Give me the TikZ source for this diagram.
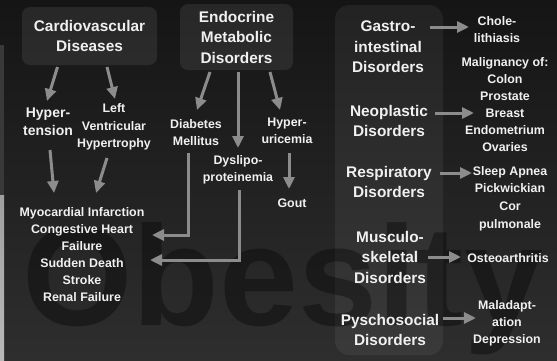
\documentclass[tikz,border=0pt]{standalone}
\usepackage{fontspec}
\setmainfont{Liberation Sans}
\usetikzlibrary{arrows.meta}
\definecolor{bgtop}{HTML}{151515}
\definecolor{bgbot}{HTML}{2E2E2E}
\definecolor{arrowgray}{HTML}{8C8C8C}
\definecolor{txt}{HTML}{F0F0F0}
\tikzset{
  head/.style={text=txt,font=\bfseries\fontsize{15.4}{20.5}\selectfont,align=center,inner sep=0pt},
  headbox/.style={head,fill=white,fill opacity=0.08,text opacity=1,rounded corners=8pt},
  item/.style={text=txt,font=\bfseries\fontsize{12.4}{17}\selectfont,align=center,inner sep=0pt},
  arr/.style={draw=arrowgray,line width=3pt,-{Triangle[width=11pt,length=12pt]}},
}
\begin{document}
\begin{tikzpicture}[x=1pt,y=-1pt]
\useasboundingbox (0,0) rectangle (557,360);
\shade[top color=bgtop,bottom color=bgbot] (0,0) rectangle (557,360);
% left edge strip
\fill[gray!45!black] (0,45) rectangle (4,195);
\shade[top color=gray!75,bottom color=gray!55] (0,195) rectangle (4,360);
% right panel
\fill[white,opacity=0.06,rounded corners=14pt] (335,5) rectangle (443,355);
% watermark
\node[anchor=base west,inner sep=0pt,text=black,text opacity=0.35,font=\bfseries\fontsize{142}{142}\selectfont] (wm) at (22,325) {Obesity};
% headings
\node[headbox,minimum width=135pt,minimum height=58pt] (cv) at (89.5,36) {Cardiovascular\\Diseases};
\node[headbox,minimum width=113pt,minimum height=66pt] (endo) at (236.5,37) {Endocrine\\Metabolic\\Disorders};
\node[head] (gi) at (388,47) {Gastro-\\intestinal\\Disorders};
\node[head] (neo) at (389,121) {Neoplastic\\Disorders};
\node[head] (resp) at (389,182) {Respiratory\\Disorders};
\node[head] (musc) at (390,257) {Musculo-\\skeletal\\Disorders};
\node[head] (psy) at (390,330) {Pyschosocial\\Disorders};
% items
\node[item,font=\bfseries\fontsize{14}{18}\selectfont] (hyp) at (48,122) {Hyper-\\tension};
\node[item,font=\bfseries\fontsize{12.4}{17.5}\selectfont] (lvh) at (114,127) {Left\\Ventricular\\Hypertrophy};
\node[item] (out) at (82,254.5) {Myocardial Infarction\\Congestive Heart\\Failure\\Sudden Death\\Stroke\\Renal Failure};
\node[item] (dm) at (196,133) {Diabetes\\Mellitus};
\node[item] (dys) at (238,170) {Dyslipo-\\proteinemia};
\node[item] (hu) at (287,131) {Hyper-\\uricemia};
\node[item] (gout) at (292,203) {Gout};
\node[item] (chole) at (497,29.5) {Chole-\\lithiasis};
\node[item] (malig) at (505,104.5) {Malignancy of:\\Colon\\Prostate\\Breast\\Endometrium\\Ovaries};
\node[item,font=\bfseries\fontsize{12.4}{17.7}\selectfont] (sleep) at (510,198.5) {Sleep Apnea\\Pickwickian\\Cor\\pulmonale};
\node[item] (osteo) at (508,258) {Osteoarthritis};
\node[item] (malad) at (507,323.5) {Maladapt-\\ation\\Depression};
% arrows
\draw[arr] ([shift={(-32,31)}]cv.center) -- ([shift={(-1,-21)}]hyp.center);
\draw[arr] ([shift={(17.5,31)}]cv.center) -- ([shift={(1,-28)}]lvh.center);
\draw[arr] ([shift={(2,28)}]hyp.center) -- ([shift={(-28,-61.5)}]out.center);
\draw[arr] ([shift={(-7,31)}]lvh.center) -- ([shift={(14,-61.5)}]out.center);
\draw[arr] ([shift={(-26.5,35)}]endo.center) -- ([shift={(1,-23)}]dm.center);
\draw[arr] ([shift={(1.5,35)}]endo.center) -- ([shift={(0,-22)}]dys.center);
\draw[arr] ([shift={(33.5,35)}]endo.center) -- ([shift={(-7,-21)}]hu.center);
\draw[arr] ([shift={(-8,20)}]dm.center) |- ([shift={(70,-19.5)}]out.center);
\draw[arr] ([shift={(1,20)}]dys.center) |- ([shift={(68,5.5)}]out.center);
\draw[arr] ([shift={(2,22)}]hu.center) -- ([shift={(-3,-14)}]gout.center);
\draw[arr] ([shift={(42,-20)}]gi.center) -- ([shift={(-28,-2.5)}]chole.center);
\draw[arr] ([shift={(46,-8)}]neo.center) -- ([shift={(-31,8.5)}]malig.center);
\draw[arr] ([shift={(51,-9)}]resp.center) -- ([shift={(-38,-25.5)}]sleep.center);
\draw[arr] ([shift={(38,0)}]musc.center) -- ([shift={(-47,-1)}]osteo.center);
\draw[arr] ([shift={(53,-12)}]psy.center) -- ([shift={(-31,-5.5)}]malad.center);
\end{tikzpicture}
\end{document}
